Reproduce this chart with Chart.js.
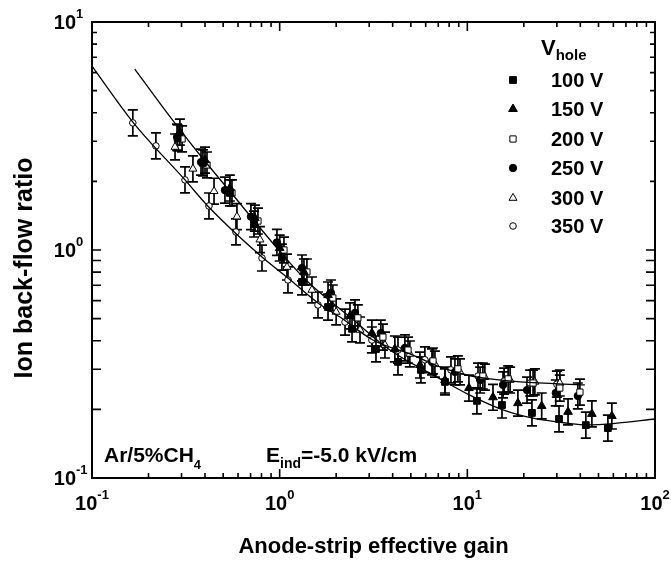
<!DOCTYPE html>
<html>
<head>
<meta charset="utf-8">
<script src="https://cdn.jsdelivr.net/npm/chart.js@4.4.1/dist/chart.umd.min.js"></script>
<style>
  html, body { margin: 0; padding: 0; background: #fff; }
</style>
</head>
<body>
<canvas id="chart" width="671" height="562"></canvas>
<script>
// anode-strip effective gain (x) and ion back-flow ratio (y), one pair per V_hole
const gain100 = [0.286, 0.39, 0.543, 0.73, 1.028, 1.315, 1.81, 2.43, 3.26, 4.27, 5.66, 7.6, 11.25, 15.3, 22.1, 30.8, 42.8, 56.1];
const ibf100  = [3.10, 2.41, 1.78, 1.30, 0.931, 0.724, 0.562, 0.451, 0.368, 0.323, 0.298, 0.264, 0.218, 0.209, 0.193, 0.1815, 0.1706, 0.1656];

const gain150 = [0.294, 0.40, 0.543, 0.738, 1.0, 1.347, 1.81, 2.37, 3.10, 4.11, 5.59, 7.6, 10.2, 13.7, 18.6, 24.9, 34.4, 46.1, 58.9];
const ibf150  = [3.29, 2.48, 1.87, 1.38, 1.02, 0.801, 0.635, 0.514, 0.432, 0.368, 0.313, 0.269, 0.248, 0.226, 0.213, 0.207, 0.195, 0.191, 0.187];

const gain200 = [0.302, 0.41, 0.557, 0.766, 1.054, 1.397, 1.92, 2.61, 3.55, 4.83, 6.56, 8.91, 12.1, 16.5, 22.4, 31.1, 39.8];
const ibf200  = [3.07, 2.36, 1.78, 1.34, 1.0, 0.801, 0.616, 0.504, 0.415, 0.364, 0.326, 0.301, 0.280, 0.272, 0.261, 0.248, 0.238];

const gain250 = [0.284, 0.381, 0.511, 0.703, 0.967, 1.315, 1.876, 2.52, 3.46, 4.65, 6.48, 8.59, 11.7, 15.5, 20.8, 29.6, 38.8];
const ibf250  = [3.13, 2.43, 1.83, 1.40, 1.08, 0.834, 0.648, 0.530, 0.432, 0.372, 0.323, 0.292, 0.269, 0.256, 0.243, 0.236, 0.229];

const gain300 = [0.277, 0.345, 0.447, 0.592, 0.785, 1.094, 1.486, 2.0, 2.68, 3.64, 4.94, 6.72, 9.14, 12.4, 16.9, 22.9, 31.1];
const ibf300  = [2.83, 2.27, 1.81, 1.40, 1.11, 0.842, 0.668, 0.535, 0.446, 0.383, 0.350, 0.316, 0.292, 0.277, 0.269, 0.264, 0.261];

const gain350 = [0.165, 0.219, 0.313, 0.42, 0.585, 0.805, 1.107, 1.60, 2.23, 3.10, 4.27, 5.94, 8.18, 11.4, 15.7, 21.6, 30.0];
const ibf350  = [3.61, 2.86, 2.03, 1.56, 1.20, 0.922, 0.739, 0.574, 0.483, 0.403, 0.364, 0.330, 0.298, 0.280, 0.266, 0.261, 0.258];

// fitted curves
const fitAGain = [0.1, 0.165, 0.313, 0.42, 0.805, 1.107, 1.6, 2.095, 3.14, 5.13, 7.14, 9.95, 13.2, 19.1, 42.3];
const fitAIbf  = [6.4, 3.64, 2.03, 1.54, 0.931, 0.754, 0.586, 0.508, 0.403, 0.346, 0.307, 0.283, 0.272, 0.264, 0.256];
const fitBGain = [0.169, 0.236, 0.376, 0.543, 1.041, 1.397, 2.37, 3.87, 6.89, 10.3, 15.5, 22.4, 34.0, 43.4, 62.7, 100];
const fitBIbf  = [6.22, 4.28, 2.61, 1.81, 0.951, 0.731, 0.508, 0.364, 0.277, 0.231, 0.199, 0.183, 0.174, 0.171, 0.174, 0.1815];

const ERR_FRAC = 0.14; // relative error bar half-size

const xDecades = [0.1, 1, 10, 100];
const xExponents = ['-1', '0', '1', '2'];
const yDecades = [0.1, 1, 10];
const yExponents = ['-1', '0', '1'];
const minorSteps = [2, 3, 4, 5, 6, 7, 8, 9];

const FONT = '"Liberation Sans", Arial, Helvetica, sans-serif';

const pts = (xs, ys) => xs.map((x, i) => ({ x, y: ys[i] }));

const series = [
  { label: '100 V', data: pts(gain100, ibf100), pointStyle: 'rect', pointRadius: 4.8, filled: true },
  { label: '150 V', data: pts(gain150, ibf150), pointStyle: 'triangle', pointRadius: 5, filled: true },
  { label: '200 V', data: pts(gain200, ibf200), pointStyle: 'rect', pointRadius: 4.4, filled: false },
  { label: '250 V', data: pts(gain250, ibf250), pointStyle: 'circle', pointRadius: 3.7, filled: true },
  { label: '300 V', data: pts(gain300, ibf300), pointStyle: 'triangle', pointRadius: 4.6, filled: false },
  { label: '350 V', data: pts(gain350, ibf350), pointStyle: 'circle', pointRadius: 3.3, filled: false }
];

const fitStyle = { showLine: true, pointRadius: 0, borderColor: '#000', borderWidth: 1.3, cubicInterpolationMode: 'monotone', fill: false };

const datasets = [
  { label: 'fitA', data: pts(fitAGain, fitAIbf), ...fitStyle },
  { label: 'fitB', data: pts(fitBGain, fitBIbf), ...fitStyle },
  ...series.map(s => ({
    label: s.label,
    data: s.data,
    errorBars: true,
    pointStyle: s.pointStyle,
    pointRadius: s.pointRadius,
    pointBackgroundColor: s.filled ? '#000' : '#fff',
    pointBorderColor: '#000',
    pointBorderWidth: 1
  }))
];

// draws a row of text pieces [text, size, dy] starting at x
function textRun(ctx, pieces, x, y, align) {
  let total = 0;
  pieces.forEach(p => {
    ctx.font = `bold ${p[1]}px ${FONT}`;
    p.w = ctx.measureText(p[0]).width;
    total += p.w;
  });
  let cx = align === 'center' ? x - total / 2 : align === 'right' ? x - total : x;
  pieces.forEach(p => {
    ctx.font = `bold ${p[1]}px ${FONT}`;
    ctx.fillText(p[0], cx, y + p[2]);
    cx += p.w;
  });
}

const errorBars = {
  id: 'errorBars',
  beforeDatasetsDraw(chart) {
    const { ctx, chartArea: a, scales: { x, y } } = chart;
    const cap = 5;
    ctx.save();
    ctx.beginPath();
    ctx.rect(a.left, a.top, a.right - a.left, a.bottom - a.top);
    ctx.clip();
    ctx.strokeStyle = '#000';
    ctx.lineWidth = 1.7;
    chart.data.datasets.forEach(ds => {
      if (!ds.errorBars) return;
      ds.data.forEach(p => {
        const px = x.getPixelForValue(p.x);
        const top = y.getPixelForValue(p.y * (1 + ERR_FRAC));
        const bot = y.getPixelForValue(p.y / (1 + ERR_FRAC));
        ctx.beginPath();
        ctx.moveTo(px, top); ctx.lineTo(px, bot);
        ctx.moveTo(px - cap, top); ctx.lineTo(px + cap, top);
        ctx.moveTo(px - cap, bot); ctx.lineTo(px + cap, bot);
        ctx.stroke();
      });
    });
    ctx.restore();
  }
};

const frame = {
  id: 'frame',
  afterDraw(chart) {
    const { ctx, chartArea: a, scales: { x, y } } = chart;
    ctx.save();
    ctx.strokeStyle = '#000';
    ctx.fillStyle = '#000';
    ctx.lineWidth = 2;
    ctx.strokeRect(a.left, a.top, a.right - a.left, a.bottom - a.top);

    // inward ticks on all four sides
    ctx.lineWidth = 1.6;
    const xTick = (v, len) => {
      const px = x.getPixelForValue(v);
      ctx.beginPath();
      ctx.moveTo(px, a.bottom); ctx.lineTo(px, a.bottom - len);
      ctx.moveTo(px, a.top); ctx.lineTo(px, a.top + len);
      ctx.stroke();
    };
    const yTick = (v, len) => {
      const py = y.getPixelForValue(v);
      ctx.beginPath();
      ctx.moveTo(a.left, py); ctx.lineTo(a.left + len, py);
      ctx.moveTo(a.right, py); ctx.lineTo(a.right - len, py);
      ctx.stroke();
    };
    xDecades.forEach((d, i) => {
      xTick(d, 9);
      if (i < xDecades.length - 1) minorSteps.forEach(m => xTick(d * m, 5));
    });
    yDecades.forEach((d, i) => {
      yTick(d, 9);
      if (i < yDecades.length - 1) minorSteps.forEach(m => yTick(d * m, d < 1 ? 9 : 5));
    });

    // tick labels
    ctx.textBaseline = 'alphabetic';
    ctx.textAlign = 'left';
    xDecades.forEach((d, i) => {
      const px = x.getPixelForValue(d);
      textRun(ctx, [['10', 20, 0], [xExponents[i], 13, -11]], px, 510, 'center');
    });
    yDecades.forEach((d, i) => {
      const py = y.getPixelForValue(d);
      ctx.font = `bold 20px ${FONT}`;
      const w = ctx.measureText('10').width;
      textRun(ctx, [['10', 20, 0], [yExponents[i], 13, -11]], 76 - w, py + 7, 'left');
    });

    // axis titles
    ctx.font = `bold 22px ${FONT}`;
    ctx.textAlign = 'center';
    ctx.fillText('Anode-strip effective gain', (a.left + a.right) / 2, 553);
    ctx.save();
    ctx.translate(32, 268);
    ctx.rotate(-Math.PI / 2);
    ctx.font = `bold 25px ${FONT}`;
    ctx.fillText('Ion back-flow ratio', 0, 0);
    ctx.restore();
    ctx.textAlign = 'left';

    // legend
    textRun(ctx, [['V', 22, 0], ['hole', 15, 5]], 541, 55, 'left');
    const rowY = [80, 109, 139, 168, 198, 226];
    ctx.textBaseline = 'middle';
    series.forEach((s, i) => {
      ctx.fillStyle = s.filled ? '#000' : '#fff';
      ctx.strokeStyle = '#000';
      ctx.lineWidth = 1;
      Chart.helpers.drawPoint(ctx, { pointStyle: s.pointStyle, radius: s.pointRadius, rotation: 0, borderWidth: 1 }, 513, rowY[i]);
      ctx.fillStyle = '#000';
      ctx.font = `bold 20px ${FONT}`;
      ctx.fillText(s.label, 551, rowY[i] + 1);
    });
    ctx.textBaseline = 'alphabetic';

    // annotations
    textRun(ctx, [['Ar/5%CH', 21, 0], ['4', 13, 7]], 104, 462, 'left');
    textRun(ctx, [['E', 21, 0], ['ind', 14, 6], ['=-5.0 kV/cm', 21, 0]], 266, 462, 'left');
    ctx.restore();
  }
};

new Chart(document.getElementById('chart'), {
  type: 'scatter',
  data: { datasets },
  options: {
    responsive: false,
    animation: false,
    layout: { padding: { left: 92, top: 22, right: 16, bottom: 84 } },
    plugins: { legend: { display: false }, tooltip: { enabled: false } },
    scales: {
      x: { type: 'logarithmic', min: 0.1, max: 100, display: false },
      y: { type: 'logarithmic', min: 0.1, max: 10, display: false }
    }
  },
  plugins: [errorBars, frame]
});
</script>
</body>
</html>
